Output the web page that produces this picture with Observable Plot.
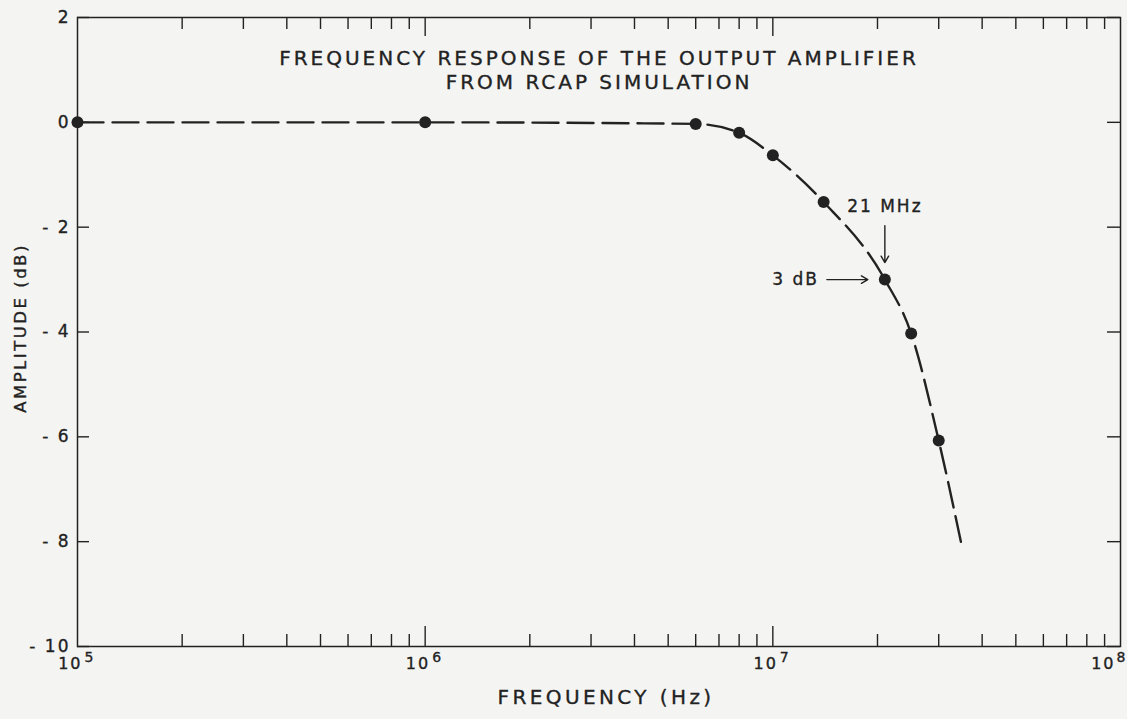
<!DOCTYPE html>
<html><head><meta charset="utf-8">
<script src="https://cdn.jsdelivr.net/npm/d3@7"></script>
<script src="https://cdn.jsdelivr.net/npm/@observablehq/plot@0.6"></script>
<style>body{margin:0;background:#f4f4f2;}</style>
</head><body><div id="chart"></div>
<script>
// ---- data ----
const freqHz      = [1e5, 1e6, 6e6, 8e6, 1e7, 1.4e7, 2.1e7, 2.5e7, 3e7];
const amplitudeDb = [0, 0, -0.03, -0.2, -0.63, -1.52, -3, -4.03, -6.07];
const curveTailHz = [3.5e7];
const curveTailDb = [-8.1];
const yTicks = [2, 0, -2, -4, -6, -8, -10];
const decadeTicks = [1e5, 1e6, 1e7, 1e8];
const decadeExponents = ["5", "6", "7", "8"];
const minorMultipliers = [2, 3, 4, 5, 6, 7, 8, 9];
const titleLines = ["FREQUENCY RESPONSE OF THE OUTPUT AMPLIFIER", "FROM RCAP SIMULATION"];
const xLabel = "FREQUENCY (Hz)";
const yLabel = "AMPLITUDE (dB)";
const freqNote = {text: "21 MHz", x: 2.1e7, y: -1.6};
const dbNote = {text: "3 dB", x: 2.1e7, y: -3};
const noteArrows = [
  {x1: 2.1e7, y1: -1.97, x2: 2.1e7, y2: -3},
  {x1: 1.43e7, y1: -3, x2: 2.1e7, y2: -3}
];

// ---- build tables ----
const points = freqHz.map((f, i) => ({f, a: amplitudeDb[i]}));
const curve = points.concat(curveTailHz.map((f, i) => ({f, a: curveTailDb[i]})));
const minorTicks = decadeTicks.slice(0, -1).flatMap(d => minorMultipliers.map(m => d * m));
const innerDecades = decadeTicks.slice(1, -1);
const decLabels = decadeTicks.map((v, i) => ({v, e: decadeExponents[i]}));

const W = 1127, H = 719, mT = 17, mB = 73, mL = 77, mR = 7;
const frameH = H - mT - mB, frameW = W - mL - mR;
const ink = "#222";
const txt = {fill: ink, stroke: ink, strokeWidth: 0.35};

const chart = Plot.plot({
  width: W, height: H,
  marginTop: mT, marginBottom: mB, marginLeft: mL, marginRight: mR,
  style: {background: "#f4f4f2", fontFamily: "DejaVu Sans", color: ink, letterSpacing: "2px"},
  x: {type: "log", domain: [1e5, 1e8], axis: null},
  y: {domain: [-10, 2], axis: null},
  marks: [
    Plot.frame({stroke: ink, strokeWidth: 1.5}),
    Plot.ruleX(minorTicks, {x: d => d, insetTop: frameH - 12, stroke: ink, strokeWidth: 1.4}),
    Plot.ruleX(minorTicks, {x: d => d, insetBottom: frameH - 12, stroke: ink, strokeWidth: 1.4}),
    Plot.ruleX(innerDecades, {x: d => d, insetTop: frameH - 20, stroke: ink, strokeWidth: 1.4}),
    Plot.ruleX(innerDecades, {x: d => d, insetBottom: frameH - 19, stroke: ink, strokeWidth: 1.4}),
    Plot.ruleY(yTicks, {y: d => d, insetRight: frameW - 12, stroke: ink, strokeWidth: 1.4}),
    Plot.ruleY(yTicks, {y: d => d, insetLeft: frameW - 13, stroke: ink, strokeWidth: 1.4}),
    // y tick labels
    Plot.text(yTicks, {y: d => d, frameAnchor: "left", textAnchor: "end", dx: -7,
      text: d => d < 0 ? "- " + Math.abs(d) : String(d), fontSize: 17, ...txt}),
    // x decade labels
    Plot.text(decLabels.slice(0, -1), {x: "v", frameAnchor: "bottom", textAnchor: "end", dx: 5, dy: 22,
      text: () => "10", fontSize: 16, ...txt}),
    Plot.text(decLabels.slice(0, -1), {x: "v", frameAnchor: "bottom", textAnchor: "start", dx: 7, dy: 15,
      text: "e", fontSize: 14, ...txt}),
    Plot.text(decLabels.slice(-1), {x: "v", frameAnchor: "bottom", textAnchor: "end", dx: -5, dy: 22,
      text: () => "10", fontSize: 16, ...txt}),
    Plot.text(decLabels.slice(-1), {x: "v", frameAnchor: "bottom", textAnchor: "start", dx: -4, dy: 15,
      text: "e", fontSize: 14, ...txt}),
    // axis titles
    Plot.text([xLabel], {frameAnchor: "bottom", dx: 7, dy: 57, fontSize: 20, ...txt}),
    Plot.text([yLabel], {frameAnchor: "left", textAnchor: "middle", dx: -57, dy: -4, rotate: -90,
      fontSize: 16.5, ...txt}),
    // title
    Plot.text([titleLines.join("\n")], {frameAnchor: "top", lineAnchor: "top", dy: 30, lineHeight: 1.2,
      fontSize: 20, ...txt}),
    // curve and points
    Plot.line(curve, {x: "f", y: "a", curve: "monotone-x", stroke: ink, strokeWidth: 2.4, strokeDasharray: "26,9"}),
    Plot.dot(points, {x: "f", y: "a", r: 6, fill: ink}),
    // annotations
    Plot.arrow(noteArrows, {x1: "x1", y1: "y1", x2: "x2", y2: "y2", insetEnd: 17, headLength: 8,
      stroke: ink, strokeWidth: 1.4}),
    Plot.text([freqNote], {x: "x", y: "y", text: "text", fontSize: 17, ...txt}),
    Plot.text([dbNote], {x: "x", y: "y", text: "text", textAnchor: "end", dx: -66, fontSize: 17, ...txt})
  ]
});
// per-label letter spacing (lettering-guide look)
const spacing = new Map([[titleLines.join(""), "3px"], [xLabel, "3.4px"], [yLabel, "2.5px"]]);
d3.select(chart).selectAll("text").each(function() {
  const s = spacing.get(this.textContent);
  if (s) this.style.letterSpacing = s;
});
document.getElementById("chart").append(chart);
</script>
</body></html>
